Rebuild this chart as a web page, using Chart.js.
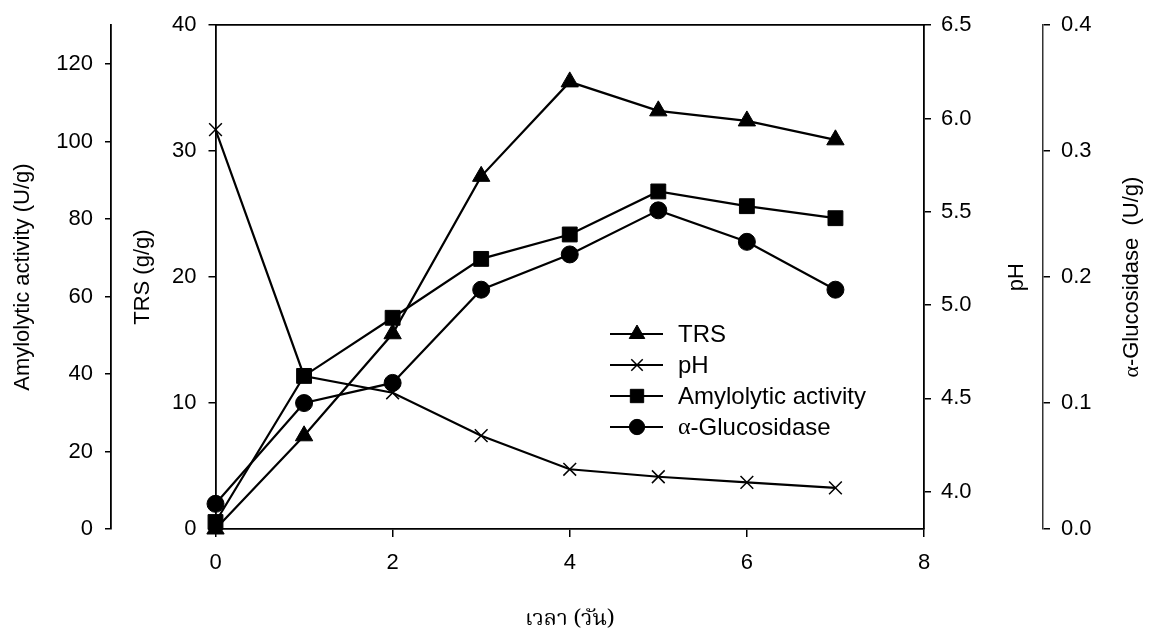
<!DOCTYPE html>
<html>
<head>
<meta charset="utf-8">
<script src="https://cdn.jsdelivr.net/npm/chart.js@4/dist/chart.umd.min.js"></script>
<style>
html,body{margin:0;padding:0;background:#fff;}
#wrap{width:1150px;height:632px;}
</style>
</head>
<body>
<div id="wrap"><canvas id="myChart" width="1150" height="632"></canvas></div>
<script>
// data
var days=[0,1,2,3,4,5,6,7];
var trs=[0,7.4,15.5,28.0,35.5,33.2,32.4,30.9];
var ph=[5.94,4.62,4.53,4.30,4.12,4.08,4.05,4.02];
var amylo=[1.8,39.5,54.5,69.7,76.0,87.1,83.3,80.2];
var gluco=[0.020,0.100,0.116,0.190,0.218,0.253,0.228,0.190];
var names=['TRS','pH','Amylolytic activity','\u03b1-Glucosidase'];
var xTitle='เวลา (วัน)';
var amyloTitle='Amylolytic activity (U/g)';
var trsTitle='TRS (g/g)';
var phTitle='pH';
var glucoTitle='\u03b1-Glucosidase  (U/g)';

var SANS="'Liberation Sans', Arial, sans-serif";
var SERIF="'Liberation Serif', 'Times New Roman', serif";
Chart.defaults.font.family=SANS;
Chart.defaults.font.size=22;
Chart.defaults.color='#000';

function pts(arr){
  var out=[];
  for(var i=0;i<days.length;i++){out.push({x:days[i],y:arr[i]});}
  return out;
}

// text with the greek alpha in a serif face, like the original
function mixedWidth(ctx,txt,size){
  var w=0;
  for(var i=0;i<txt.length;i++){
    ctx.font=size+'px '+(txt[i]==='\u03b1'?SERIF:SANS);
    w+=ctx.measureText(txt[i]).width;
  }
  return w;
}
function drawMixed(ctx,txt,x,y,size){
  var cx=x;
  for(var i=0;i<txt.length;i++){
    ctx.font=size+'px '+(txt[i]==='\u03b1'?SERIF:SANS);
    ctx.fillText(txt[i],cx,y);
    cx+=ctx.measureText(txt[i]).width;
  }
}

var extras={
  id:'extras',
  afterDraw:function(chart){
    var ctx=chart.ctx;
    // legend inside plot
    var rowY=[334,365,396,427];
    chart.data.datasets.forEach(function(ds,i){
      var y=rowY[i];
      ctx.save();
      ctx.strokeStyle='#000';ctx.fillStyle='#000';
      ctx.lineWidth=2;
      ctx.beginPath();ctx.moveTo(610,y);ctx.lineTo(663,y);ctx.stroke();
      ctx.lineWidth=ds.pointBorderWidth;
      Chart.helpers.drawPoint(ctx,{pointStyle:ds.pointStyle,radius:ds.pointRadius*0.9,rotation:0,borderWidth:ds.pointBorderWidth},637,y);
      ctx.textAlign='left';ctx.textBaseline='middle';
      drawMixed(ctx,ds.label,678,y+1,24);
      ctx.restore();
    });
    // right-hand axis titles read bottom to top
    var sp=chart.scales.yPH, sg=chart.scales.yGlu;
    var midY=(chart.chartArea.top+chart.chartArea.bottom)/2;
    [[phTitle,sp.right-26],[glucoTitle,sg.right-18]].forEach(function(t){
      ctx.save();
      ctx.fillStyle='#000';
      ctx.translate(t[1],midY);
      ctx.rotate(-Math.PI/2);
      ctx.textAlign='left';ctx.textBaseline='middle';
      var w=mixedWidth(ctx,t[0],22);
      drawMixed(ctx,t[0],-w/2,0,22);
      ctx.restore();
    });
  }
};

function axisGrid(len){
  return {display:true,drawOnChartArea:false,drawTicks:true,tickLength:len,color:'#000',lineWidth:1.5};
}
function oneDec(v){return Number(v).toFixed(1);}

var config={
  type:'line',
  data:{
    datasets:[
      {label:names[0],data:pts(trs),yAxisID:'yTRS',pointStyle:'triangle',pointRadius:10,pointBorderWidth:1},
      {label:names[1],data:pts(ph),yAxisID:'yPH',pointStyle:'crossRot',pointRadius:9,pointBorderWidth:1.5},
      {label:names[2],data:pts(amylo),yAxisID:'yAmy',pointStyle:'rect',pointRadius:10.5,pointBorderWidth:1},
      {label:names[3],data:pts(gluco),yAxisID:'yGlu',pointStyle:'circle',pointRadius:8.5,pointBorderWidth:1}
    ].map(function(d){
      d.borderColor='#000';d.backgroundColor='#000';
      d.pointBackgroundColor='#000';d.pointBorderColor='#000';
      d.borderWidth=2.2;d.tension=0;d.clip=false;
      return d;
    })
  },
  options:{
    responsive:false,
    animation:false,
    layout:{padding:{top:18,left:0,right:0,bottom:0}},
    plugins:{legend:{display:false},tooltip:{enabled:false}},
    scales:{
      x:{
        type:'linear',position:'bottom',min:0,max:8,
        ticks:{stepSize:2,padding:13,maxRotation:0},
        grid:axisGrid(8),
        border:{display:true,color:'#000',width:1.8},
        title:{display:true,text:xTitle,font:{family:"'Noto Serif Thai','Noto Sans Thai','Loma','Garuda',serif",size:22},padding:{top:0,bottom:-3}},
        afterFit:function(s){s.height=103;}
      },
      xTop:{
        type:'linear',position:'top',min:0,max:8,
        ticks:{display:false},
        grid:{display:false},
        border:{display:true,color:'#000',width:1.8},
        afterFit:function(s){s.height=0;}
      },
      yTRS:{
        type:'linear',position:'left',min:0,max:40,
        ticks:{stepSize:10,padding:12},
        grid:axisGrid(7),
        border:{display:true,color:'#000',width:1.8},
        title:{display:true,text:trsTitle,padding:{top:19,bottom:0}},
        afterFit:function(s){s.width=104.5;}
      },
      yAmy:{
        type:'linear',position:'left',min:0,max:130,
        ticks:{stepSize:20,padding:12,includeBounds:false},
        grid:axisGrid(6),
        border:{display:true,color:'#000',width:1.8},
        title:{display:true,text:amyloTitle,padding:{top:10,bottom:0}},
        afterFit:function(s){s.width=111;}
      },
      yPH:{
        type:'linear',position:'right',min:3.8,max:6.5,
        ticks:{stepSize:0.5,padding:10,includeBounds:false,callback:oneDec},
        grid:axisGrid(7),
        border:{display:true,color:'#000',width:1.8},
        afterFit:function(s){s.width=119;}
      },
      yGlu:{
        type:'linear',position:'right',min:0,max:0.4,
        ticks:{stepSize:0.1,padding:11,callback:oneDec},
        grid:axisGrid(7),
        border:{display:true,color:'#333',width:1.5},
        afterFit:function(s){s.width=107;}
      }
    }
  },
  plugins:[extras]
};

var myChart=new Chart(document.getElementById('myChart'),config);
</script>
</body>
</html>
